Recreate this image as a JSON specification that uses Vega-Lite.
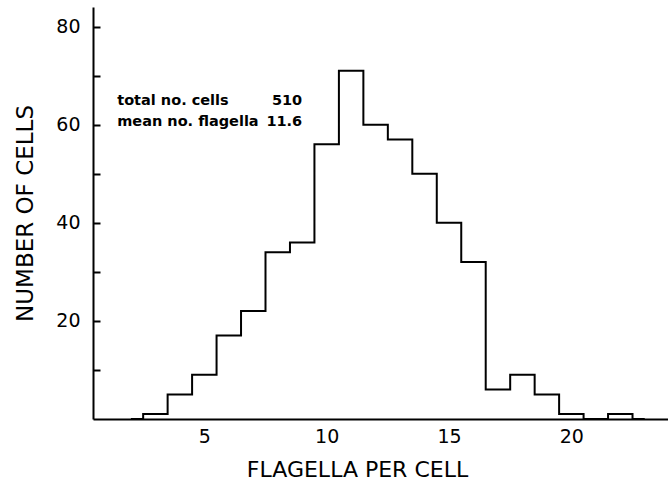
{
  "$schema": "https://vega.github.io/schema/vega-lite/v6.json",
  "width": 575,
  "height": 412,
  "autosize": "none",
  "padding": {"left": 93, "top": 7, "right": 0, "bottom": 64},
  "config": {"view": {"stroke": null}, "font": "DejaVu Sans"},
  "layer": [
    {
      "data": {"values": [
        {"flagella": 2, "cells": 0},
        {"flagella": 3, "cells": 1},
        {"flagella": 4, "cells": 5},
        {"flagella": 5, "cells": 9},
        {"flagella": 6, "cells": 17},
        {"flagella": 7, "cells": 22},
        {"flagella": 8, "cells": 34},
        {"flagella": 9, "cells": 36},
        {"flagella": 10, "cells": 56},
        {"flagella": 11, "cells": 71},
        {"flagella": 12, "cells": 60},
        {"flagella": 13, "cells": 57},
        {"flagella": 14, "cells": 50},
        {"flagella": 15, "cells": 40},
        {"flagella": 16, "cells": 32},
        {"flagella": 17, "cells": 6},
        {"flagella": 18, "cells": 9},
        {"flagella": 19, "cells": 5},
        {"flagella": 20, "cells": 1},
        {"flagella": 21, "cells": 0},
        {"flagella": 22, "cells": 1},
        {"flagella": 23, "cells": 0}
      ]},
      "mark": {"type": "line", "interpolate": "step", "color": "black", "strokeWidth": 2},
      "encoding": {
        "x": {
          "field": "flagella", "type": "quantitative",
          "scale": {"domain": [0.45, 23.95], "nice": false, "zero": false},
          "axis": {
            "title": "FLAGELLA PER CELL",
            "values": [5, 10, 15, 20],
            "ticks": false,
            "grid": false,
            "domainColor": "black",
            "domainWidth": 2,
            "labelColor": "black",
            "labelFontSize": 19,
            "labelPadding": 8,
            "labelDx": 3,
            "titleColor": "black",
            "titleFontSize": 22,
            "titleFontWeight": "normal",
            "titlePadding": 13,
            "titleX": 264
          }
        },
        "y": {
          "field": "cells", "type": "quantitative",
          "scale": {"domain": [0, 84], "nice": false},
          "axis": {
            "title": "NUMBER OF CELLS",
            "values": [10, 20, 30, 40, 50, 60, 70, 80],
            "labelExpr": "datum.value % 20 == 0 ? datum.label : ''",
            "grid": false,
            "tickSize": -7,
            "tickWidth": 2,
            "tickColor": "black",
            "domainColor": "black",
            "domainWidth": 2,
            "labelColor": "black",
            "labelFontSize": 19,
            "labelPadding": 20,
            "titleColor": "black",
            "titleFontSize": 23,
            "titleFontWeight": "normal",
            "titlePadding": 18
          }
        }
      }
    },
    {
      "data": {"values": [
        {"text": "total no. cells", "x": 1.44, "y": 64.9},
        {"text": "mean no. flagella", "x": 1.44, "y": 60.6}
      ]},
      "mark": {"type": "text", "align": "left", "baseline": "middle", "fontSize": 14.5, "fontWeight": "bold", "color": "black"},
      "encoding": {
        "x": {"field": "x", "type": "quantitative"},
        "y": {"field": "y", "type": "quantitative"},
        "text": {"field": "text"}
      }
    },
    {
      "data": {"values": [
        {"text": "510", "x": 9.0, "y": 64.9},
        {"text": "11.6", "x": 9.0, "y": 60.6}
      ]},
      "mark": {"type": "text", "align": "right", "baseline": "middle", "fontSize": 14.5, "fontWeight": "bold", "color": "black"},
      "encoding": {
        "x": {"field": "x", "type": "quantitative"},
        "y": {"field": "y", "type": "quantitative"},
        "text": {"field": "text"}
      }
    }
  ]
}
